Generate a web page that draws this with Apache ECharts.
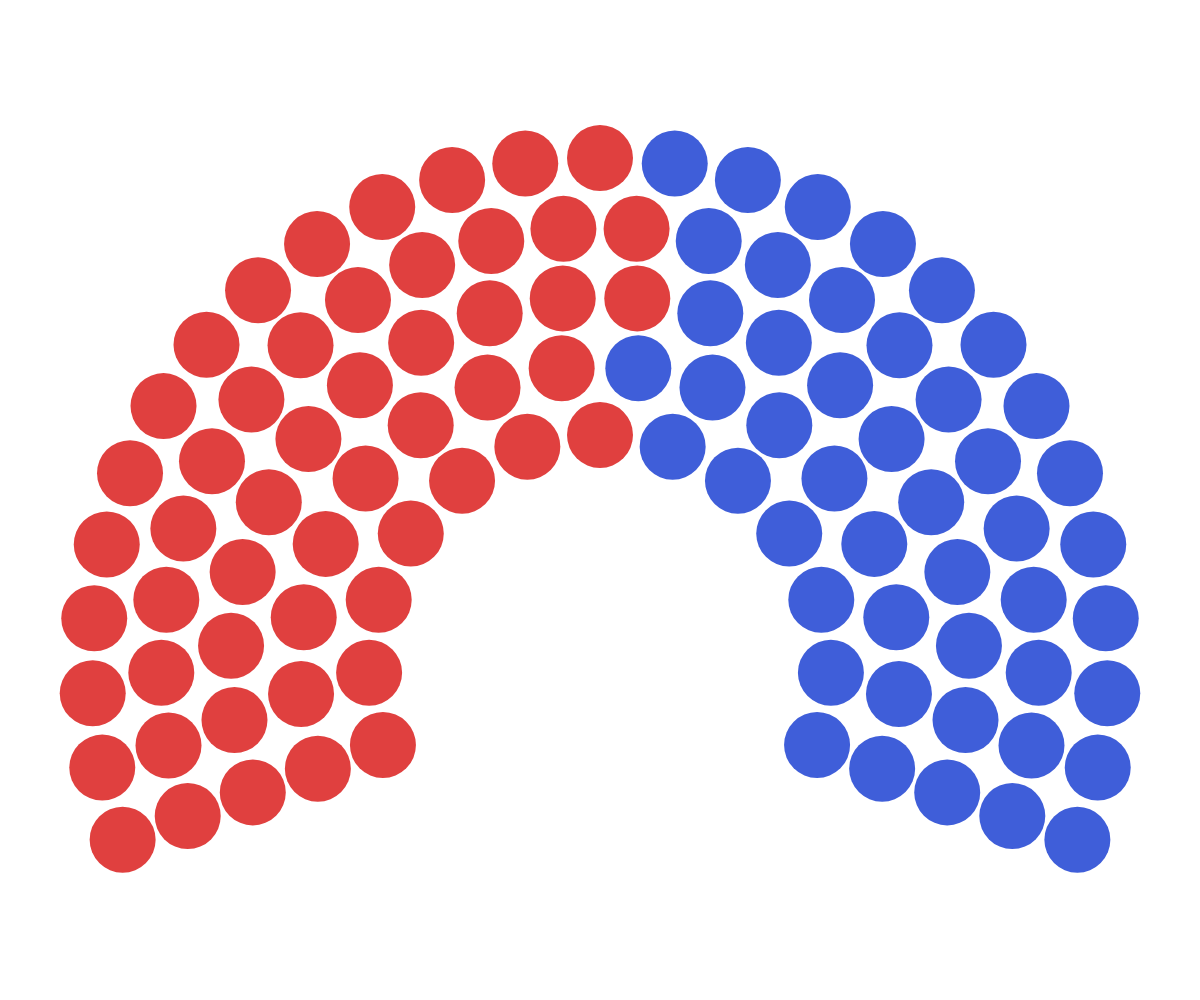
<!DOCTYPE html>
<html>
<head>
<meta charset="utf-8">
<script src="https://cdn.jsdelivr.net/npm/echarts@6/dist/echarts.min.js"></script>
<style>html,body{margin:0;padding:0;background:#fff}#main{width:1200px;height:1000px}</style>
</head>
<body>
<div id="main"></div>
<script>
// Seats per row (inner -> outer)
var seatsPerRow = [13, 16, 20, 24, 27];
// Parties and their seat counts, in order of allocation (left -> right)
var partyNames = ['Party A', 'Party B'];
var partySeats = [53, 47];
var partyColors = ['#e0403f', '#3f5ed9'];
// Arc span in degrees
var arcStart = 200, arcEnd = -20;

// Lay out seats: ring index -> radius axis value, angle evenly spread along the arc
var seats = [];
seatsPerRow.forEach(function (n, ring) {
  for (var k = 0; k < n; k++) {
    var a = arcStart - (arcStart - arcEnd) * k / (n - 1);
    seats.push([ring, a]);
  }
});
seats.sort(function (p, q) { return q[1] - p[1]; });

var series = [];
var idx = 0;
partyNames.forEach(function (name, p) {
  var d = seats.slice(idx, idx + partySeats[p]);
  idx += partySeats[p];
  series.push({
    name: name,
    type: 'scatter',
    coordinateSystem: 'polar',
    symbol: 'circle',
    symbolSize: 66,
    itemStyle: { color: partyColors[p], opacity: 1 },
    emphasis: { disabled: true },
    data: d
  });
});

var chart = echarts.init(document.getElementById('main'));
chart.setOption({
  animation: false,
  backgroundColor: '#ffffff',
  polar: { center: ['50%', 666], radius: [231, 508] },
  angleAxis: {
    type: 'value', min: 0, max: 360, startAngle: 0, clockwise: false,
    axisLine: { show: false }, axisTick: { show: false },
    axisLabel: { show: false }, splitLine: { show: false }
  },
  radiusAxis: {
    type: 'value', min: 0, max: seatsPerRow.length - 1,
    axisLine: { show: false }, axisTick: { show: false },
    axisLabel: { show: false }, splitLine: { show: false }
  },
  series: series
});
</script>
</body>
</html>
